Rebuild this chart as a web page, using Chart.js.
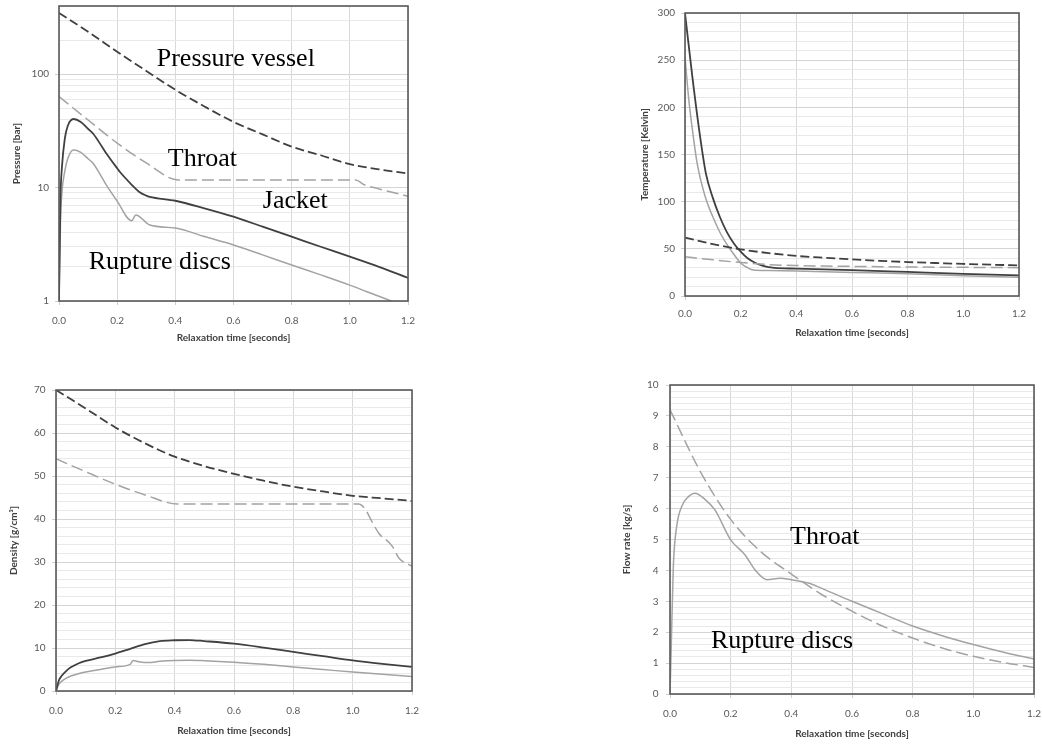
<!DOCTYPE html>
<html>
<head>
<meta charset="utf-8">
<script src="https://cdn.jsdelivr.net/npm/chart.js@4.4.0/dist/chart.umd.min.js"></script>
<style>
  html, body { margin: 0; padding: 0; background: #ffffff; }
  #wrap { position: relative; width: 1042px; height: 745px; background: #ffffff; overflow: hidden; }
  canvas { position: absolute; }
</style>
</head>
<body>
<div id="wrap">
  <canvas id="c1" width="420" height="345" style="left:0px;top:0px;width:420px;height:345px"></canvas>
  <canvas id="c2" width="452" height="345" style="left:590px;top:0px;width:452px;height:345px"></canvas>
  <canvas id="c3" width="430" height="400" style="left:0px;top:345px;width:430px;height:400px"></canvas>
  <canvas id="c4" width="452" height="400" style="left:590px;top:345px;width:452px;height:400px"></canvas>
</div>
<script>
// ---------- shared axis values ----------
const xTickValues = [0, 0.2, 0.4, 0.6, 0.8, 1.0, 1.2];
const xTitle = 'Relaxation time [seconds]';

// ---------- Panel 1: Pressure (log) ----------
const pressureVesselT = [0, 0.1, 0.2, 0.3, 0.4, 0.5, 0.6, 0.7, 0.8, 0.9, 1.0, 1.1, 1.2];
const pressureVesselP = [347, 237, 158, 107, 73, 52, 38, 29.5, 23, 19.3, 16.1, 14.5, 13.3];
const throatPT = [0, 0.1, 0.2, 0.3, 0.41, 0.6, 0.8, 1.02, 1.05, 1.09, 1.2];
const throatP = [63.5, 39.5, 24.7, 16.5, 11.7, 11.7, 11.7, 11.7, 10.6, 9.9, 8.4];
const jacketPT = [0, 0.005, 0.01, 0.02, 0.03, 0.05, 0.075, 0.1, 0.117, 0.15, 0.163, 0.2, 0.209, 0.25, 0.275, 0.3, 0.312, 0.4, 0.5, 0.6, 0.7, 0.8, 0.9, 1.0, 1.1, 1.2];
const jacketP = [1, 8, 15, 27, 35, 40.3, 38, 33, 30, 22.5, 20, 14.8, 13.8, 10.6, 9.2, 8.5, 8.3, 7.66, 6.57, 5.54, 4.52, 3.69, 3.01, 2.46, 2.0, 1.6];
const ruptureDiscPT = [0, 0.005, 0.01, 0.02, 0.03, 0.05, 0.075, 0.1, 0.117, 0.15, 0.163, 0.2, 0.25, 0.264, 0.312, 0.4, 0.5, 0.6, 0.7, 0.8, 0.9, 1.0, 1.1, 1.2];
const ruptureDiscP = [1, 5, 9, 14, 18, 21.5, 20.5, 18, 16.4, 12, 10.5, 7.6, 5.1, 5.75, 4.68, 4.4, 3.7, 3.12, 2.55, 2.08, 1.7, 1.38, 1.1, 0.88];
const pressureTicks = [1, 2, 3, 4, 5, 6, 7, 8, 9, 10, 20, 30, 40, 50, 60, 70, 80, 90, 100, 200, 300, 400];

// ---------- Panel 2: Temperature ----------
const tempVesselT = [0, 0.1, 0.2, 0.3, 0.4, 0.5, 0.6, 0.7, 0.8, 0.9, 1.0, 1.1, 1.2];
const tempVessel = [62, 55, 49.5, 45.5, 42.5, 40.5, 38.8, 37.3, 36, 35, 34, 33.2, 32.5];
const tempThroatT = [0, 0.1, 0.2, 0.3, 0.4, 0.5, 0.6, 0.7, 0.8, 0.9, 1.0, 1.1, 1.2];
const tempThroat = [41.5, 38.3, 35.5, 33.3, 32.3, 31.8, 31.4, 31.1, 30.8, 30.6, 30.4, 30.2, 30];
const tempJacketT = [0, 0.025, 0.05, 0.075, 0.1, 0.125, 0.15, 0.175, 0.2, 0.225, 0.25, 0.275, 0.3, 0.32, 0.4, 0.6, 0.8, 1.0, 1.2];
const tempJacket = [300, 236, 178, 130, 104, 84, 68, 56, 47, 40, 35.5, 32.5, 30.5, 29.8, 29, 27.5, 25.5, 23.5, 21.8];
const tempRuptureT = [0, 0.014, 0.025, 0.044, 0.075, 0.1, 0.128, 0.15, 0.164, 0.2, 0.225, 0.245, 0.3, 0.4, 0.6, 0.8, 1.0, 1.2];
const tempRupture = [253, 207, 180, 140, 103, 84, 66, 55, 49, 35, 30, 27.5, 27, 26.5, 25, 23.5, 21.5, 20];

// ---------- Panel 3: Density ----------
const densVesselT = [0, 0.1, 0.2, 0.3, 0.4, 0.5, 0.6, 0.7, 0.8, 0.9, 1.0, 1.1, 1.2];
const densVessel = [70, 65.7, 61.3, 57.6, 54.5, 52.3, 50.5, 48.9, 47.5, 46.4, 45.4, 44.8, 44.2];
const densThroatT = [0, 0.1, 0.2, 0.3, 0.41, 0.6, 0.8, 1.0, 1.02, 1.04, 1.065, 1.09, 1.12, 1.135, 1.155, 1.2];
const densThroat = [54, 51, 48.1, 45.6, 43.5, 43.5, 43.5, 43.5, 43.5, 42.5, 39.4, 36.5, 34.7, 33.5, 31, 29];
const densJacketT = [0, 0.01, 0.02, 0.035, 0.05, 0.075, 0.1, 0.15, 0.2, 0.25, 0.3, 0.35, 0.4, 0.45, 0.5, 0.6, 0.7, 0.8, 0.9, 1.0, 1.1, 1.2];
const densJacket = [0, 2.5, 3.6, 4.7, 5.5, 6.4, 7.0, 7.8, 8.7, 9.8, 10.9, 11.6, 11.8, 11.85, 11.6, 11.0, 10.1, 9.1, 8.1, 7.1, 6.3, 5.6];
const densRuptureT = [0, 0.01, 0.02, 0.035, 0.05, 0.075, 0.1, 0.15, 0.2, 0.25, 0.26, 0.28, 0.31, 0.35, 0.4, 0.45, 0.5, 0.6, 0.7, 0.8, 0.9, 1.0, 1.1, 1.2];
const densRupture = [0, 1.6, 2.3, 3.0, 3.5, 4.0, 4.4, 5.0, 5.6, 6.2, 7.1, 6.8, 6.6, 6.9, 7.1, 7.15, 7.05, 6.7, 6.2, 5.6, 5.0, 4.4, 3.9, 3.4];

// ---------- Panel 4: Flow rate ----------
const flowThroatT = [0, 0.1, 0.2, 0.3, 0.4, 0.5, 0.6, 0.7, 0.8, 0.9, 1.0, 1.1, 1.2];
const flowThroat = [9.2, 7.2, 5.65, 4.6, 3.88, 3.22, 2.68, 2.2, 1.81, 1.48, 1.22, 1.02, 0.86];
const flowRuptureT = [0, 0.004, 0.011, 0.022, 0.0385, 0.06, 0.0825, 0.115, 0.148, 0.2, 0.2475, 0.28, 0.319, 0.363, 0.4, 0.456, 0.5, 0.6, 0.7, 0.8, 0.9, 1.0, 1.1, 1.2];
const flowRupture = [0, 1.5, 4.13, 5.42, 6.07, 6.38, 6.5, 6.3, 5.96, 4.99, 4.5, 4.02, 3.7, 3.75, 3.7, 3.59, 3.42, 3.0, 2.6, 2.2, 1.88, 1.6, 1.35, 1.13];

// ---------- annotation labels ----------
const pressureNotes = [
  { text: 'Pressure vessel', t: 0.336, v: 118 },
  { text: 'Throat', t: 0.374, v: 15.5 },
  { text: 'Jacket', t: 0.701, v: 6.6 },
  { text: 'Rupture discs', t: 0.102, v: 1.91 }
];
const flowNotes = [
  { text: 'Throat', t: 0.396, v: 4.86 },
  { text: 'Rupture discs', t: 0.135, v: 1.49 }
];

// ---------- styles ----------
const DARK = '#404040';
const GRAY = '#a3a3a3';
const TICK_FONT = { family: 'Lato, "Open Sans", sans-serif', size: 10 };
const TITLE_FONT = { family: 'Lato, "Open Sans", sans-serif', size: 10, weight: 'bold' };
const TICK_COLOR = '#595959';
const TITLE_COLOR = '#404040';

function pts(t, v) { return t.map((x, i) => ({ x: x, y: v[i] })); }
function series(t, v, kind) {
  const dark = kind === 'darkDash' || kind === 'darkSolid';
  const dashed = kind === 'darkDash' || kind === 'grayDash';
  return {
    data: pts(t, v),
    borderColor: dark ? DARK : GRAY,
    borderWidth: dark ? 1.8 : 1.5,
    borderDash: dashed ? (dark ? [9, 4] : [12, 5]) : [],
    pointRadius: 0,
    cubicInterpolationMode: 'monotone',
    fill: false
  };
}

const framePlugin = {
  id: 'frame',
  afterDatasetsDraw(chart) {
    const { ctx, chartArea: a } = chart;
    ctx.save();
    ctx.strokeStyle = '#595959';
    ctx.lineWidth = 1.6;
    ctx.strokeRect(a.left, a.top, a.right - a.left, a.bottom - a.top);
    ctx.restore();
  }
};
const notesPlugin = {
  id: 'notes',
  afterDraw(chart, args, opts) {
    if (!opts.items) return;
    const { ctx, scales } = chart;
    ctx.save();
    ctx.font = '26px "Liberation Serif", "Times New Roman", serif';
    ctx.fillStyle = '#000000';
    ctx.textBaseline = 'alphabetic';
    ctx.textAlign = 'left';
    opts.items.forEach(n => {
      ctx.fillText(n.text, scales.x.getPixelForValue(n.t), scales.y.getPixelForValue(n.v));
    });
    ctx.restore();
  }
};

function makeChart(id, o) {
  const isMajor = o.isMajor;
  return new Chart(document.getElementById(id), {
    type: 'line',
    data: { datasets: o.datasets },
    options: {
      responsive: false,
      animation: false,
      events: [],
      layout: { padding: o.padding },
      plugins: { legend: { display: false }, tooltip: { enabled: false }, notes: { items: o.notes || null } },
      scales: {
        x: {
          type: 'linear', min: 0, max: 1.2,
          afterBuildTicks: s => { s.ticks = xTickValues.map(v => ({ value: v })); },
          afterFit: s => { s.height = o.xh; s.paddingLeft = 0; s.paddingRight = 0; },
          ticks: { autoSkip: false, maxRotation: 0, padding: o.xtp, font: TICK_FONT, color: TICK_COLOR,
                   callback: v => Number(v).toFixed(1) },
          grid: { color: '#d9d9d9', lineWidth: 1, tickLength: 4, tickColor: '#cfcfcf' },
          border: { display: false },
          title: { display: true, text: xTitle, font: TITLE_FONT, color: TITLE_COLOR, padding: { top: 0, bottom: o.xtb } }
        },
        y: {
          type: o.ytype, min: o.ymin, max: o.ymax,
          afterBuildTicks: s => { s.ticks = o.yticks.map(v => ({ value: v })); },
          afterFit: s => { s.width = o.yw; s.paddingTop = 0; s.paddingBottom = 0; },
          ticks: { autoSkip: false, padding: o.ytp, font: TICK_FONT, color: TICK_COLOR,
                   callback: v => isMajor(v) ? String(Math.round(v)) : '' },
          grid: {
            lineWidth: 1, tickLength: 4,
            color: c => (c.tick && isMajor(c.tick.value)) ? '#d4d4d4' : '#e9e9e9',
            tickColor: c => (c.tick && isMajor(c.tick.value)) ? '#cfcfcf' : 'rgba(0,0,0,0)'
          },
          border: { display: false },
          title: { display: true, text: o.ytitle, font: TITLE_FONT, color: TITLE_COLOR, padding: { top: o.ytt, bottom: 0 } }
        }
      }
    },
    plugins: [framePlugin, notesPlugin]
  });
}

function linTicks(max, step) { const n = Math.round(max / step); const a = []; for (let i = 0; i <= n; i++) a.push(Math.round(i * step * 1000) / 1000); return a; }

// Panel 1
makeChart('c1', {
  datasets: [
    series(pressureVesselT, pressureVesselP, 'darkDash'),
    series(throatPT, throatP, 'grayDash'),
    series(jacketPT, jacketP, 'darkSolid'),
    series(ruptureDiscPT, ruptureDiscP, 'graySolid')
  ],
  padding: { top: 6, right: 12, bottom: 0, left: 0 },
  xh: 44, xtp: 10, xtb: 1,
  ytype: 'logarithmic', ymin: 1, ymax: 400, yticks: pressureTicks,
  isMajor: v => Math.abs(Math.log10(v) - Math.round(Math.log10(v))) < 1e-9,
  yw: 59, ytp: 6, ytitle: 'Pressure [bar]', ytt: 11,
  notes: pressureNotes
});
// Panel 2
makeChart('c2', {
  datasets: [
    series(tempVesselT, tempVessel, 'darkDash'),
    series(tempThroatT, tempThroat, 'grayDash'),
    series(tempJacketT, tempJacket, 'darkSolid'),
    series(tempRuptureT, tempRupture, 'graySolid')
  ],
  padding: { top: 13, right: 23, bottom: 0, left: 0 },
  xh: 49, xtp: 8, xtb: 6,
  ytype: 'linear', ymin: 0, ymax: 300, yticks: linTicks(300, 10),
  isMajor: v => Math.abs(v / 50 - Math.round(v / 50)) < 1e-6,
  yw: 95, ytp: 6, ytitle: 'Temperature [Kelvin]', ytt: 49
});
// Panel 3
makeChart('c3', {
  datasets: [
    series(densVesselT, densVessel, 'darkDash'),
    series(densThroatT, densThroat, 'grayDash'),
    series(densJacketT, densJacket, 'darkSolid'),
    series(densRuptureT, densRupture, 'graySolid')
  ],
  padding: { top: 45, right: 18, bottom: 0, left: 0 },
  xh: 54, xtp: 10, xtb: 8.3,
  ytype: 'linear', ymin: 0, ymax: 70, yticks: linTicks(70, 2),
  isMajor: v => Math.abs(v / 10 - Math.round(v / 10)) < 1e-6,
  yw: 56, ytp: 6.5, ytitle: 'Density [g/cm³]', ytt: 7.3
});
// Panel 4
makeChart('c4', {
  datasets: [
    series(flowThroatT, flowThroat, 'grayDash'),
    series(flowRuptureT, flowRupture, 'graySolid')
  ],
  padding: { top: 40, right: 8, bottom: 0, left: 0 },
  xh: 51, xtp: 10, xtb: 5,
  ytype: 'linear', ymin: 0, ymax: 10, yticks: linTicks(10, 0.2),
  isMajor: v => Math.abs(v - Math.round(v)) < 1e-6,
  yw: 80, ytp: 7.5, ytitle: 'Flow rate [kg/s]', ytt: 30.7,
  notes: flowNotes
});
</script>
</body>
</html>
